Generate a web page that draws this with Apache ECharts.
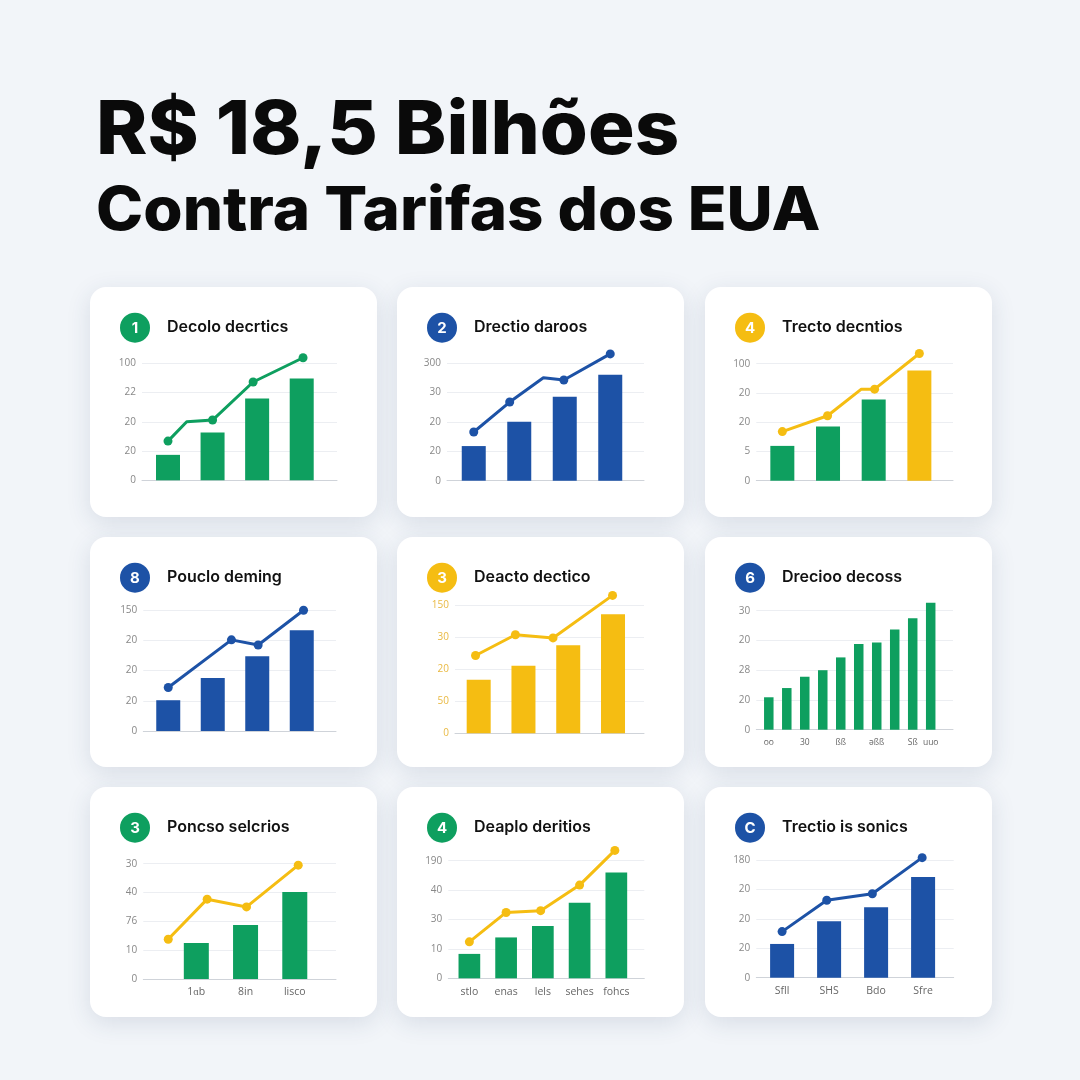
<!DOCTYPE html>
<html>
<head>
<meta charset="utf-8">
<script src="https://cdn.jsdelivr.net/npm/echarts@6/dist/echarts.min.js"></script>
<style>
  html, body { margin: 0; padding: 0; background: #f2f5f9; }
  #main { width: 1080px; height: 1080px; }
</style>
</head>
<body>
<div id="main"></div>
<script>
// --- data (y in gridline units: 0..4) ---
const headline = ['R$ 18,5 Bilhões', 'Contra Tarifas dos EUA'];
const titles = ['Decolo decrtics', 'Drectio daroos', 'Trecto decntios',
  'Pouclo deming', 'Deacto dectico', 'Drecioo decoss',
  'Poncso selcrios', 'Deaplo deritios', 'Trectio is sonics'];
const badges = ['1', '2', '4', '8', '3', '6', '3', '4', 'C'];

// y tick labels, bottom to top
const yTicks = [
  ['0', '20', '20', '22', '100'],
  ['0', '20', '20', '30', '300'],
  ['0', '5', '20', '20', '100'],
  ['0', '20', '20', '20', '150'],
  ['0', '50', '20', '30', '150'],
  ['0', '20', '28', '20', '30'],
  ['0', '10', '76', '40', '30'],
  ['0', '10', '30', '40', '190'],
  ['0', '20', '20', '20', '180']
];
// x labels under the bars ('' = none)
const xLabels = [
  ['', '', '', ''],
  ['', '', '', ''],
  ['', '', '', ''],
  ['', '', '', ''],
  ['', '', '', ''],
  ['oo', '', '30', '', 'ßß', '', 'əßß', '', 'Sß', 'uuo'],
  ['1ɑb', '8in', 'lisco'],
  ['stlo', 'enas', 'lels', 'sehes', 'fohcs'],
  ['Sfll', 'SHS', 'Bdo', 'Sfre']
];
const barValues = [
  [0.87, 1.63, 2.80, 3.48],
  [1.18, 2.01, 2.86, 3.61],
  [1.19, 1.85, 2.78, 3.77],
  [1.02, 1.76, 2.48, 3.34],
  [1.67, 2.11, 2.75, 3.72],
  [1.09, 1.40, 1.78, 2.00, 2.43, 2.88, 2.93, 3.37, 3.75, 4.27],
  [1.25, 1.87, 3.02],
  [0.83, 1.39, 1.78, 2.57, 3.60],
  [1.15, 1.92, 2.40, 3.43]
];
// line points: x in bar slots, y in gridline units
const lineX = [
  [0, 0.42, 1.0, 1.91, 3.03],
  [0, 0.79, 1.53, 1.98, 3.0],
  [0, 0.99, 1.73, 2.02, 3.0],
  [0, 1.42, 2.02, 3.04],
  [-0.07, 0.82, 1.66, 2.99],
  [],
  [-0.57, 0.22, 1.02, 2.07],
  [0, 1.0, 1.94, 3.0, 3.96],
  [0, 0.95, 1.92, 2.98]
];
const lineY = [
  [1.34, 2.0, 2.06, 3.36, 4.19],
  [1.66, 2.68, 3.51, 3.43, 4.32],
  [1.68, 2.22, 3.13, 3.13, 4.35],
  [1.44, 3.02, 2.85, 4.0],
  [2.43, 3.08, 2.98, 4.31],
  [],
  [1.38, 2.77, 2.50, 3.95],
  [1.24, 2.24, 2.30, 3.17, 4.35],
  [1.57, 2.64, 2.86, 4.09]
];
// which line points carry a dot (0 = bend only)
const lineDots = [
  [1, 0, 1, 1, 1],
  [1, 1, 0, 1, 1],
  [1, 1, 0, 1, 1],
  [1, 1, 1, 1],
  [1, 1, 1, 1],
  [],
  [1, 1, 1, 1],
  [1, 1, 1, 1, 1],
  [1, 1, 1, 1]
];

// --- styles / layout ---
const GREEN = '#0e9f5f', BLUE = '#1d52a6', YELLOW = '#f5bd12';
const badgeColor = [GREEN, BLUE, YELLOW, BLUE, YELLOW, BLUE, GREEN, GREEN, BLUE];
const barColor = [
  [GREEN], [BLUE], [GREEN, GREEN, GREEN, YELLOW], [BLUE], [YELLOW],
  [GREEN], [GREEN], [GREEN], [BLUE]
];
const lineColor = [GREEN, BLUE, YELLOW, BLUE, YELLOW, null, YELLOW, YELLOW, BLUE];
const tickColor = ['#888', '#888', '#888', '#888', '#e9b942', '#888', '#888', '#888', '#888'];
const xLabelSize = [10.5, 10.5, 10.5, 10.5, 10.5, 8.5, 10.5, 10.5, 10.5];

const cardX = [90, 397, 705], cardY = [287, 537, 787];
const CARD_W = 287, CARD_H = 230;
// per panel: wide grid (gridlines) l, r, top, base; bar slots l, r; bar width
const layout = [
  { l: 52, r: 247, t: 76.3, b: 193.3, nl: 55.7, nr: 234, bw: 24 },
  { l: 50, r: 247, t: 76.3, b: 193.7, nl: 54, nr: 236, bw: 24 },
  { l: 51.3, r: 248, t: 76.7, b: 193.7, nl: 54.5, nr: 237.2, bw: 24 },
  { l: 53.3, r: 246, t: 73.3, b: 194, nl: 56, nr: 234, bw: 24 },
  { l: 58, r: 247, t: 68.3, b: 196.3, nl: 59.3, nr: 238.4, bw: 24 },
  { l: 51.3, r: 248, t: 73.7, b: 192.7, nl: 54.8, nr: 234.7, bw: 9.5 },
  { l: 53.3, r: 246, t: 76.7, b: 192, nl: 81.7, nr: 229.4, bw: 25 },
  { l: 51.3, r: 247.3, t: 73.7, b: 191.3, nl: 54, nr: 237.7, bw: 21.7 },
  { l: 51.3, r: 248.7, t: 73.3, b: 190.7, nl: 53.6, nr: 241.6, bw: 24 }
];

const grid = [], xAxis = [], yAxis = [], series = [];
const graphic = [
  { type: 'text', x: 96, y: 95, scaleX: 1.05, originX: 0,
    style: { text: headline[0], font: '800 74px Inter', fill: '#0a0a0a', verticalAlign: 'top' } },
  { type: 'text', x: 96, y: 182, scaleX: 1.06, originX: 0,
    style: { text: headline[1], font: '800 60px Inter', fill: '#0a0a0a', verticalAlign: 'top' } }
];

for (let i = 0; i < 9; i++) {
  const cx = cardX[i % 3], cy = cardY[Math.floor(i / 3)];
  const L = layout[i];
  const n = barValues[i].length;

  graphic.push({
    type: 'rect', z: -10,
    shape: { x: cx, y: cy, width: CARD_W, height: CARD_H, r: 16 },
    style: { fill: '#ffffff', shadowBlur: 24, shadowColor: 'rgba(40,60,100,0.13)', shadowOffsetY: 6 }
  });
  graphic.push({
    type: 'circle', z: 5,
    shape: { cx: cx + 45, cy: cy + 40.7, r: 15 },
    style: { fill: badgeColor[i] }
  });
  graphic.push({
    type: 'text', z: 6, x: cx + 45, y: cy + 41.5,
    style: { text: badges[i], font: '700 15px Inter', fill: '#fff', align: 'center', verticalAlign: 'middle' }
  });
  graphic.push({
    type: 'text', z: 6, x: cx + 77, y: cy + 40,
    style: { text: titles[i], font: '600 16px Inter', fill: '#111', verticalAlign: 'middle' }
  });

  // wide grid: gridlines, y labels, baseline
  const gW = grid.length;
  grid.push({ left: cx + L.l, top: cy + L.t, width: L.r - L.l, height: L.b - L.t });
  xAxis.push({
    gridIndex: gW, type: 'value', min: 0, max: 1,
    axisLine: { show: true, lineStyle: { color: '#cfd3d9', width: 1 } },
    axisTick: { show: false }, axisLabel: { show: false }, splitLine: { show: false }
  });
  const ticks = yTicks[i];
  yAxis.push({
    gridIndex: gW, type: 'value', min: 0, max: 4, interval: 1,
    axisLine: { show: false }, axisTick: { show: false },
    axisLabel: {
      margin: 6, color: tickColor[i], fontSize: 10, fontFamily: 'Open Sans',
      formatter: v => ticks[Math.round(v)]
    },
    splitLine: { lineStyle: { color: '#eceef2', width: 1 } }
  });

  // narrow grid: bar slots
  const gN = grid.length;
  grid.push({ left: cx + L.nl, top: cy + L.t, width: L.nr - L.nl, height: L.b - L.t });
  const xc = xAxis.length;
  const labs = xLabels[i];
  xAxis.push({
    gridIndex: gN, type: 'category', data: barValues[i].map((_, k) => 'c' + k),
    axisLine: { show: false }, axisTick: { show: false },
    axisLabel: { interval: 0, margin: 8, color: '#666', fontSize: xLabelSize[i], fontFamily: 'Open Sans',
      formatter: (v, k) => labs[k] }
  });
  const xv = xAxis.length;
  xAxis.push({ gridIndex: gN, type: 'value', min: -0.5, max: n - 0.5, show: false });
  const yN = yAxis.length;
  yAxis.push({ gridIndex: gN, type: 'value', min: 0, max: 4, show: false });

  const cols = barColor[i];
  series.push({
    type: 'bar', xAxisIndex: xc, yAxisIndex: yN, barWidth: L.bw, clip: false,
    data: barValues[i].map((v, k) => ({ value: v, itemStyle: { color: cols[k] || cols[0] } })),
    itemStyle: { borderRadius: 0 }
  });
  if (lineX[i].length) {
    series.push({
      type: 'line', xAxisIndex: xv, yAxisIndex: yN, clip: false, z: 5,
      symbol: 'circle', symbolSize: 9,
      lineStyle: { color: lineColor[i], width: 3 },
      itemStyle: { color: lineColor[i] },
      data: lineX[i].map((x, k) => lineDots[i][k]
        ? { value: [x, lineY[i][k]] }
        : { value: [x, lineY[i][k]], symbol: 'none' })
    });
  }
}

const chart = echarts.init(document.getElementById('main'), null, { renderer: 'canvas' });
chart.setOption({
  backgroundColor: '#f2f5f9',
  animation: false,
  graphic: graphic,
  grid: grid,
  xAxis: xAxis,
  yAxis: yAxis,
  series: series
});
</script>
</body>
</html>
